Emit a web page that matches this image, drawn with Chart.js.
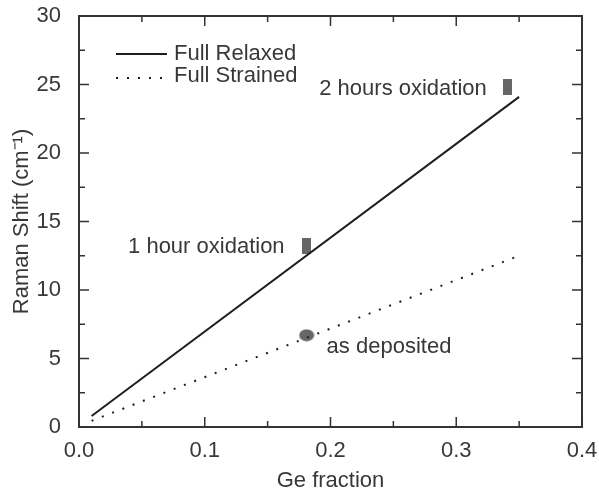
<!DOCTYPE html>
<html>
<head>
<meta charset="utf-8">
<script src="https://cdn.jsdelivr.net/npm/chart.js@4.4.1/dist/chart.umd.min.js"></script>
<style>
  html, body { margin: 0; padding: 0; background: #fff; }
  #wrap { width: 599px; height: 492px; }
</style>
</head>
<body>
<div id="wrap"><canvas id="c" width="599" height="492"></canvas></div>
<script>
// data
const relaxedX = [0.01, 0.35];
const relaxedY = [0.8, 24.1];
const strainedX = [0.01, 0.35];
const strainedY = [0.45, 12.5];

const sampleNames = ["as deposited", "1 hour oxidation", "2 hours oxidation"];
const sampleX = [0.181, 0.181, 0.341];
const sampleY = [6.7, 13.2, 24.8];

const xTickValues = [0, 0.1, 0.2, 0.3, 0.4];
const yTickValues = [0, 5, 10, 15, 20, 25, 30];

const legendNames = ["Full Relaxed", "Full Strained"];

const FONT = "Liberation Sans, Arial, Helvetica, sans-serif";
const TXT = "#383838";
const INK = "#1e1e1e";
const MARK = "#666";

function toPts(xs, ys) {
  return xs.map((x, i) => ({ x: x, y: ys[i] }));
}

// marker shapes
function barMarker() {
  const c = document.createElement("canvas");
  c.width = 9; c.height = 16;
  const g = c.getContext("2d");
  g.fillStyle = MARK;
  g.fillRect(0, 0, 9, 16);
  return c;
}
function blobMarker() {
  const c = document.createElement("canvas");
  c.width = 16; c.height = 13;
  const g = c.getContext("2d");
  g.fillStyle = MARK;
  g.beginPath();
  g.ellipse(8, 6.5, 7.5, 6, 0, 0, Math.PI * 2);
  g.fill();
  return c;
}
const sampleStyles = [blobMarker(), barMarker(), barMarker()];
// label placement relative to the marker (px)
const labelOffsets = [[20, 12, "left"], [-22, 1, "right"], [-21, 2, "right"]];

// frame, inward ticks on all four sides, in-plot legend and point labels
const decorations = {
  id: "decorations",
  afterDraw(chart) {
    const ctx = chart.ctx;
    const a = chart.chartArea;
    const xs = chart.scales.x, ys = chart.scales.y;
    ctx.save();
    ctx.strokeStyle = "#333";
    ctx.lineWidth = 2;
    ctx.strokeRect(a.left, a.top, a.right - a.left, a.bottom - a.top);

    ctx.lineWidth = 1.5;
    ctx.beginPath();
    xTickValues.forEach((v, i) => {
      const px = xs.getPixelForValue(v);
      ctx.moveTo(px, a.bottom); ctx.lineTo(px, a.bottom - 10);
      ctx.moveTo(px, a.top); ctx.lineTo(px, a.top + 10);
      if (i < xTickValues.length - 1) {
        const mx = xs.getPixelForValue((v + xTickValues[i + 1]) / 2);
        ctx.moveTo(mx, a.bottom); ctx.lineTo(mx, a.bottom - 6);
        ctx.moveTo(mx, a.top); ctx.lineTo(mx, a.top + 6);
      }
    });
    yTickValues.forEach((v, i) => {
      const py = ys.getPixelForValue(v);
      ctx.moveTo(a.left, py); ctx.lineTo(a.left + 10, py);
      ctx.moveTo(a.right, py); ctx.lineTo(a.right - 10, py);
      if (i < yTickValues.length - 1) {
        const my = ys.getPixelForValue((v + yTickValues[i + 1]) / 2);
        ctx.moveTo(a.left, my); ctx.lineTo(a.left + 6, my);
        ctx.moveTo(a.right, my); ctx.lineTo(a.right - 6, my);
      }
    });
    ctx.stroke();

    // legend
    ctx.font = "22px " + FONT;
    ctx.fillStyle = TXT;
    ctx.textBaseline = "middle";
    ctx.textAlign = "left";
    const lx0 = a.left + 37, lx1 = a.left + 88;
    ctx.strokeStyle = INK;
    ctx.lineWidth = 2;
    ctx.beginPath();
    ctx.moveTo(lx0, a.top + 38); ctx.lineTo(lx1, a.top + 38);
    ctx.stroke();
    ctx.setLineDash([2, 9]);
    ctx.beginPath();
    ctx.moveTo(lx0, a.top + 62); ctx.lineTo(lx1, a.top + 62);
    ctx.stroke();
    ctx.setLineDash([]);
    ctx.fillText(legendNames[0], a.left + 95, a.top + 38);
    ctx.fillText(legendNames[1], a.left + 95, a.top + 60);

    // sample labels
    sampleNames.forEach((name, i) => {
      const px = xs.getPixelForValue(sampleX[i]);
      const py = ys.getPixelForValue(sampleY[i]);
      const o = labelOffsets[i];
      ctx.textAlign = o[2];
      ctx.fillText(name, px + o[0], py + o[1]);
    });
    ctx.restore();
  }
};

new Chart(document.getElementById("c"), {
  type: "scatter",
  data: {
    datasets: [
      {
        label: legendNames[0],
        data: toPts(relaxedX, relaxedY),
        showLine: true,
        borderColor: INK,
        borderWidth: 2,
        pointRadius: 0
      },
      {
        label: legendNames[1],
        data: toPts(strainedX, strainedY),
        showLine: true,
        borderColor: INK,
        borderWidth: 2,
        borderDash: [2, 9],
        pointRadius: 0
      },
      {
        label: "samples",
        data: toPts(sampleX, sampleY),
        showLine: false,
        pointStyle: sampleStyles,
        pointRadius: 6
      }
    ]
  },
  options: {
    responsive: false,
    animation: false,
    layout: { padding: { left: 0, right: 17, top: 16, bottom: 0 } },
    plugins: { legend: { display: false }, tooltip: { enabled: false } },
    scales: {
      x: {
        type: "linear",
        min: 0,
        max: 0.4,
        afterBuildTicks: (s) => { s.ticks = xTickValues.map((v) => ({ value: v })); },
        afterFit: (s) => { s.height = 65; s.paddingLeft = 0; s.paddingRight = 0; },
        grid: { display: false },
        border: { display: false },
        ticks: {
          padding: 3,
          color: TXT,
          font: { family: FONT, size: 22 },
          callback: (v) => Number(v).toFixed(1),
          maxRotation: 0
        },
        title: {
          display: true,
          text: "Ge fraction",
          color: TXT,
          font: { family: FONT, size: 22, lineHeight: 1 },
          padding: { top: 0, bottom: 0 }
        }
      },
      y: {
        type: "linear",
        min: 0,
        max: 30,
        afterBuildTicks: (s) => { s.ticks = yTickValues.map((v) => ({ value: v })); },
        afterFit: (s) => { s.width = 79; s.paddingTop = 0; s.paddingBottom = 0; },
        grid: { display: false },
        border: { display: false },
        ticks: {
          padding: 10,
          color: TXT,
          font: { family: FONT, size: 22 }
        },
        title: {
          display: true,
          text: "Raman Shift (cm\u207B\u00B9)",
          color: TXT,
          font: { family: FONT, size: 22, lineHeight: 1 },
          padding: { top: 11, bottom: 0 }
        }
      }
    }
  },
  plugins: [decorations]
});
</script>
</body>
</html>
